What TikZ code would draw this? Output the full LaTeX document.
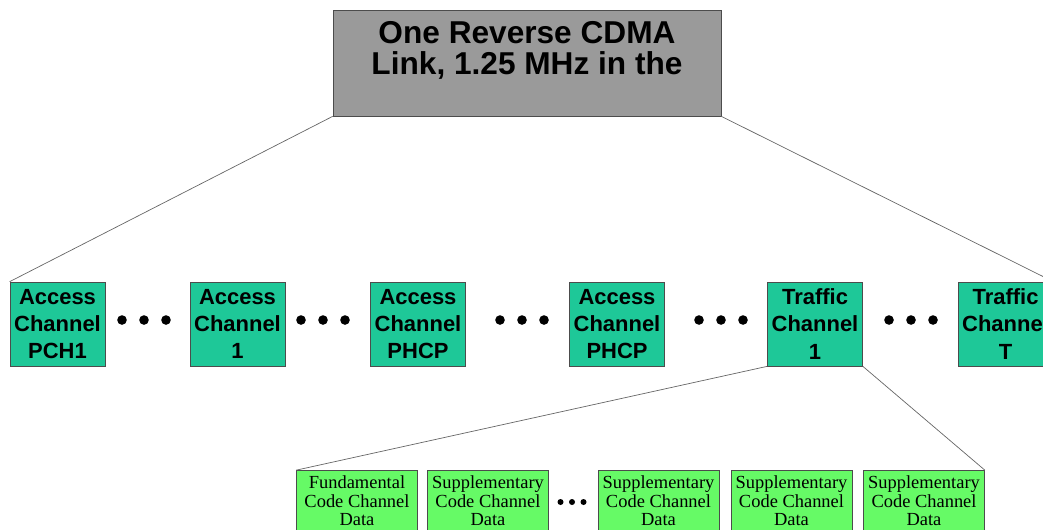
\documentclass[tikz,border=0pt]{standalone}
\usepackage{fontspec}
\setsansfont{Liberation Sans}
\newfontfamily\datafont{Liberation Serif}
\usetikzlibrary{positioning}
\definecolor{linkgray}{RGB}{154, 154, 154}
\definecolor{chanteal}{RGB}{30, 200, 152}
\definecolor{datagreen}{RGB}{102, 250, 102}
\tikzset{
  linkbox/.style={draw=black!70, fill=linkgray, minimum width=7.76cm, minimum height=2.12cm, align=center, font=\sffamily\bfseries\fontsize{18}{17.2}\selectfont, inner sep=0pt},
  chanbox/.style={draw=black!70, fill=chanteal, minimum width=1.9cm, minimum height=1.68cm, align=center, font=\sffamily\bfseries\fontsize{12.5}{15.4}\selectfont, inner sep=0pt},
  databox/.style={draw=black!70, fill=datagreen, minimum width=2.42cm, minimum height=1.22cm, align=center, font=\datafont\fontsize{10.5}{10.6}\selectfont, inner sep=0pt},
  fanline/.style={draw=black!60, thin}
}
\newcommand{\chdots}[4]{% centre x, y, spacing, radius
  \foreach \k in {-1,0,1} \fill ({#1+\k*#3},#2) circle (#4);}
\begin{document}
\begin{tikzpicture}[x=0.02cm, y=-0.02cm]
\useasboundingbox (0,0) rectangle (1043,529);
\clip (0,0) rectangle (1043,529);

% reverse link
\node[linkbox] (link) at (527,63) {One Reverse CDMA\\Link, 1.25 MHz in the\\\mbox{}};

% channels
\node[chanbox] (pch) at (57.5,324) {Access\\Channel\\PCH1};
\node[chanbox] (acc1) at (237.5,324) {Access\\Channel\\1};
\node[chanbox] (phcpa) at (418,324) {Access\\Channel\\PHCP};
\node[chanbox] (phcpb) at (617,324) {Access\\Channel\\PHCP};
\node[chanbox] (tra1) at (815,324) {Traffic\\Channel\\1};
\node[chanbox] (trat) at (1005.5,324) {Traffic\\Channel\\T};

\chdots{144}{320}{22}{4.8}
\chdots{323}{320}{22}{4.8}
\chdots{522}{320}{22}{4.8}
\chdots{721}{320}{22}{4.8}
\chdots{911}{320}{22}{4.8}

\draw[fanline] (link.south west) -- (pch.north west);
\draw[fanline] (link.south east) -- (trat.north east);

% code channels of traffic channel 1
\node[databox] (fund) at (357,501) {Fundamental\\Code Channel\\Data};
\node[databox] (supa) at (488,501) {Supplementary\\Code Channel\\Data};
\node[databox] (supb) at (658.5,501) {Supplementary\\Code Channel\\Data};
\node[databox] (supc) at (791.5,501) {Supplementary\\Code Channel\\Data};
\node[databox] (supd) at (924,501) {Supplementary\\Code Channel\\Data};

\chdots{572}{502}{11.5}{3}

\draw[fanline] (tra1.south west) -- (fund.north west);
\draw[fanline] (tra1.south east) -- (supd.north east);
\end{tikzpicture}
\end{document}
